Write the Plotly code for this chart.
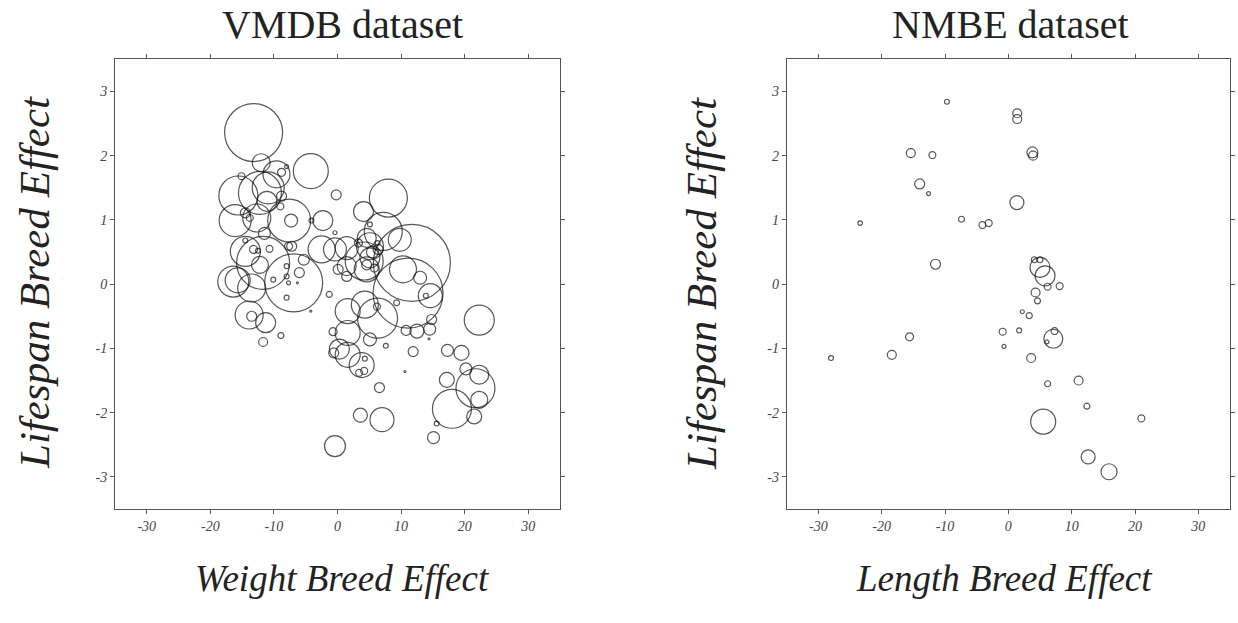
import plotly.graph_objects as go

# ---------------- data ----------------
vm_x = [-13.2, -12.0, -9.6, -8.8, -8.0, -4.2, -15.1, -15.6, -12.2, -10.9,
        -11.1, -8.8, -9.0, -16.1, -12.7, -7.6, -7.3, -14.5, -13.8, -11.5,
        -2.3, -4.1, -0.2, -14.5, -14.5, -11.7, -12.2, -13.2, -12.5, -10.7,
        -7.2, -7.7, -5.3, -6.9, -16.4, -15.7, -13.5, -2.5, -0.4, -6.0,
        -8.0, -10.1, -7.7, -6.3, 0.1, -13.9, -13.5, -11.3, -11.7, -8.9,
        -8.0, -4.2, -1.3, -0.7, -0.4, -8.0, 1.6, 1.6, 0.3, 1.6,
        -0.6, 3.8, 4.3, 3.4, 4.2, 6.3, 4.3, 6.2, 5.1, 7.6,
        6.6, 3.6, 7.0, 9.3, 11.7, 11.1, 8.0, 4.1, 5.1, 7.2,
        9.8, 4.6, 1.45, 3.3, -0.4, 4.2, 5.1, 5.5, 4.6, 5.8,
        1.45, 1.45, 4.6, 6.4, 6.3, 10.3, 13.0, 14.6, 13.9, 14.8,
        14.5, 12.5, 10.8, 14.4, 11.9, 10.6, 22.3, 17.3, 19.5, 20.2,
        22.3, 21.7, 22.3, 17.2, 18.0, 21.5, 15.6, 15.1, 5.1]
vm_y = [2.36, 1.89, 1.71, 1.74, 1.83, 1.76, 1.68, 1.38, 1.42, 1.50,
        1.29, 1.37, 1.21, 0.99, 1.03, 0.99, 0.99, 1.11, 1.03, 0.79,
        0.99, 0.99, 1.39, 0.51, 0.68, 0.33, 0.30, 0.54, 0.52, 0.55,
        0.59, 0.59, 0.38, 0.02, 0.04, 0.06, -0.06, 0.54, 0.54, 0.18,
        0.28, 0.07, 0.02, 0.02, 0.23, -0.48, -0.50, -0.60, -0.90, -0.80,
        -0.21, -0.42, -0.16, -0.74, -2.52, 0.12, -0.42, -0.76, -1.01, -1.10,
        -1.07, -1.26, -1.16, -1.38, -1.35, -0.53, -0.32, -0.35, -0.86, -0.96,
        -1.61, -2.04, -2.11, -0.29, 0.33, -0.14, 1.34, 1.13, 0.93, 0.82,
        0.69, 0.72, 0.56, 0.64, 0.80, 0.36, 0.41, 0.50, 0.30, 0.25,
        0.28, 0.12, 0.23, 0.54, 0.64, 0.23, 0.10, -0.18, -0.18, -0.55,
        -0.70, -0.73, -0.72, -0.85, -1.05, -1.36, -0.56, -1.03, -1.07, -1.32,
        -1.41, -1.62, -1.80, -1.49, -1.94, -2.06, -2.17, -2.39, 0.59]
vm_n = [841, 81, 182, 16, 4, 306, 12, 380, 462, 256,
        100, 25, 12, 256, 196, 462, 42, 25, 12, 36,
        100, 6, 25, 225, 6, 702, 72, 16, 6, 12,
        25, 16, 30, 841, 240, 156, 196, 182, 132, 25,
        6, 6, 4, 1, 25, 196, 25, 100, 20, 9,
        6, 1, 9, 16, 110, 6, 156, 156, 100, 156,
        25, 156, 6, 12, 12, 400, 182, 12, 42, 6,
        25, 49, 144, 9, 1482, 1225, 361, 100, 6, 361,
        132, 90, 132, 16, 4, 361, 100, 36, 25, 16,
        90, 25, 156, 25, 6, 182, 42, 144, 6, 25,
        36, 49, 25, 1, 25, 1, 225, 36, 56, 36,
        90, 380, 72, 56, 380, 56, 6, 36, 182]

nm_x = [-9.7, -15.4, -12.0, -14.0, -12.6, -23.4, -7.4, -4.1, -3.1, -11.5,
        1.4, 1.4, 3.8, 3.9, 1.35, 4.1, 5.0, 5.0, 5.8, 6.2,
        8.1, 4.3, 4.6, 2.2, 3.3, -0.9, 1.7, -0.7, 7.1, 7.3,
        6.1, 3.6, 11.1, 6.2, 12.4, 5.5, 21.0, 12.6, 15.9, -28.0,
        -18.4, -15.6]
nm_y = [2.84, 2.04, 2.01, 1.56, 1.41, 0.95, 1.01, 0.92, 0.95, 0.31,
        2.66, 2.57, 2.05, 2.00, 1.27, 0.38, 0.38, 0.26, 0.13, -0.04,
        -0.03, -0.13, -0.26, -0.43, -0.49, -0.74, -0.72, -0.97, -0.85, -0.73,
        -0.90, -1.15, -1.50, -1.55, -1.90, -2.14, -2.09, -2.69, -2.92, -1.15,
        -1.10, -0.82]
nm_n = [6, 20, 12, 25, 4, 5, 9, 12, 12, 25,
        20, 20, 30, 20, 49, 9, 9, 100, 100, 12,
        12, 20, 9, 4, 9, 12, 6, 4, 90, 12,
        4, 20, 20, 9, 9, 156, 12, 49, 64, 6,
        20, 16]

x_ticks = [-30, -20, -10, 0, 10, 20, 30]
x_tick_labels = ["-30", "-20", "-10", "0", "10", "20", "30"]
y_ticks = [-3, -2, -1, 0, 1, 2, 3]
y_tick_labels = ["-3", "-2", "-1", "0", "1", "2", "3"]

panel_titles = ["VMDB dataset", "NMBE dataset"]
x_titles = ["Weight Breed Effect", "Length Breed Effect"]
y_title = "Lifespan Breed Effect"

# ---------------- figure ----------------
SERIF = "Liberation Serif, Times New Roman, serif"
fig = go.Figure()

bubble_style = dict(sizemode="area", sizeref=0.5, symbol="circle",
                    color="rgba(0,0,0,0)", line=dict(color="#111111", width=1.2))

fig.add_trace(go.Scatter(x=vm_x, y=vm_y, mode="markers", xaxis="x", yaxis="y",
                         marker=dict(size=vm_n, **bubble_style),
                         showlegend=False, hoverinfo="x+y"))
fig.add_trace(go.Scatter(x=nm_x, y=nm_y, mode="markers", xaxis="x2", yaxis="y2",
                         marker=dict(size=nm_n, **bubble_style),
                         showlegend=False, hoverinfo="x+y"))

tickfont = dict(family=SERIF, size=14, color="#444", style="italic")
xax = dict(range=[-35, 35], tickmode="array", tickvals=x_ticks, ticktext=x_tick_labels,
           ticks="outside", ticklen=4, tickcolor="#555", mirror="ticks",
           showline=True, linecolor="#555", linewidth=1,
           showgrid=False, zeroline=False, tickfont=tickfont)
yax = dict(range=[-3.5, 3.5], tickmode="array", tickvals=y_ticks, ticktext=y_tick_labels,
           ticks="outside", ticklen=4, tickcolor="#555", mirror="ticks",
           showline=True, linecolor="#555", linewidth=1,
           showgrid=False, zeroline=False, tickfont=tickfont)

W, H = 1238, 623
fig.update_layout(
    width=W, height=H,
    margin=dict(l=0, r=0, t=0, b=0),
    paper_bgcolor="white", plot_bgcolor="white",
    xaxis=dict(domain=[115 / W, 560 / W], anchor="y", **xax),
    yaxis=dict(domain=[114 / H, 563.7 / H], anchor="x", **yax),
    xaxis2=dict(domain=[786.7 / W, 1230 / W], anchor="y2", **xax),
    yaxis2=dict(domain=[114 / H, 563.7 / H], anchor="x2", **yax),
)

ann = []
for cx, t in zip([342 / W, 1010 / W], panel_titles):
    ann.append(dict(text=t, x=cx, y=1 - 24 / H, xref="paper", yref="paper",
                    showarrow=False, xanchor="center", yanchor="middle",
                    font=dict(family=SERIF, size=40, color="#222")))
for cx, t in zip([342 / W, 1004 / W], x_titles):
    ann.append(dict(text=t, x=cx, y=1 - 578 / H, xref="paper", yref="paper",
                    showarrow=False, xanchor="center", yanchor="middle",
                    font=dict(family=SERIF, size=37, color="#222", style="italic")))
for cx in [34 / W, 701 / W]:
    ann.append(dict(text=y_title, x=cx, y=1 - 283 / H, xref="paper", yref="paper",
                    showarrow=False, xanchor="center", yanchor="middle", textangle=-90,
                    font=dict(family=SERIF, size=43, color="#222", style="italic")))
fig.update_layout(annotations=ann)

fig.write_html("out.html", config={"displayModeBar": False},
               post_script="document.body.style.margin='0';")
